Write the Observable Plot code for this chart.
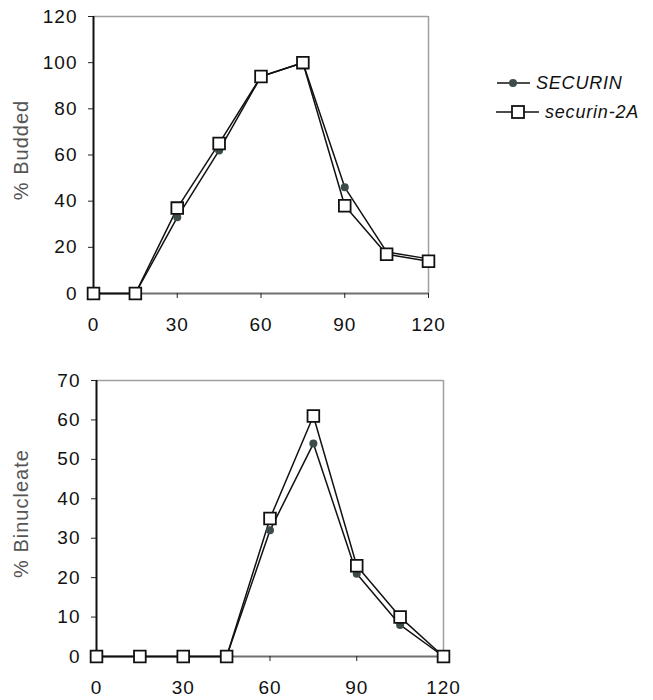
<!DOCTYPE html>
<html>
<head>
<meta charset="utf-8">
<script src="https://cdn.jsdelivr.net/npm/d3@7"></script>
<script src="https://cdn.jsdelivr.net/npm/@observablehq/plot@0.6"></script>
<style>
  html, body { margin: 0; padding: 0; background: #fff; }
  #wrap { position: relative; width: 653px; height: 700px; font-family: "Liberation Sans", Arial, sans-serif; }
  #top, #bottom { position: absolute; left: 0; }
  #top { top: 0; }
  #bottom { top: 360px; }
  .leg { position: absolute; font-style: italic; font-size: 18px; letter-spacing: 0.8px; color: #111; display: flex; align-items: center; line-height: 20px; }
  .leg svg { margin-right: 5px; }
</style>
</head>
<body>
<div id="wrap">
  <div id="top"></div>
  <div id="bottom"></div>
  <div class="leg" style="left:497px; top:73px;">
    <svg width="34" height="20"><line x1="0" y1="10" x2="33" y2="10" stroke="#111" stroke-width="1.5"/><circle cx="16" cy="10" r="4" fill="#3d4b4b"/></svg>SECURIN
  </div>
  <div class="leg" style="left:496px; top:102px;">
    <svg width="44" height="20"><line x1="0" y1="10" x2="43" y2="10" stroke="#111" stroke-width="1.5"/><rect x="16" y="4" width="12" height="12" fill="#fff" stroke="#111" stroke-width="1.8"/></svg>securin-2A
  </div>
</div>
<script>
const times = [0, 15, 30, 45, 60, 75, 90, 105, 120];
const seriesNames = ["SECURIN", "securin-2A"];
const buddedSECURIN = [0, 0, 33, 62, 94, 100, 46, 18, 15];
const buddedSecurin2A = [0, 0, 37, 65, 94, 100, 38, 17, 14];
const binucSECURIN = [0, 0, 0, 0, 32, 54, 21, 8, 0];
const binucSecurin2A = [0, 0, 0, 0, 35, 61, 23, 10, 0];
const xTicks = [0, 30, 60, 90, 120];
const yTicksTop = [0, 20, 40, 60, 80, 100, 120];
const yTicksBottom = [0, 10, 20, 30, 40, 50, 60, 70];

function rows(a, b) {
  return times.flatMap((t, i) => [
    {t, v: a[i], s: seriesNames[0]},
    {t, v: b[i], s: seriesNames[1]}
  ]);
}

function chart({data, yMax, yTicks, label, width, height, mL, mR, mT, mB, labelDy}) {
  const dA = data.filter(d => d.s === seriesNames[0]);
  const dB = data.filter(d => d.s === seriesNames[1]);
  return Plot.plot({
    width, height,
    marginLeft: mL, marginRight: mR, marginTop: mT, marginBottom: mB,
    style: {fontFamily: "Liberation Sans, Arial, sans-serif", fontSize: "19px", color: "#111", background: "#fff", letterSpacing: "1px", overflow: "visible"},
    x: {domain: [0, 120]},
    y: {domain: [0, yMax]},
    marks: [
      Plot.ruleY([yMax], {stroke: "#a0a0a0", strokeWidth: 1.5}),
      Plot.ruleX([120], {stroke: "#a0a0a0", strokeWidth: 1.5}),
      Plot.ruleY([0], {stroke: "#707070", strokeWidth: 2}),
      Plot.ruleX([0], {stroke: "#111", strokeWidth: 2}),
      Plot.axisX({ticks: xTicks, tickSize: 5, tickPadding: 19, tickFormat: d => d, label: null, fontSize: 19, stroke: "#222"}),
      Plot.axisY({ticks: yTicks, tickSize: 5, tickPadding: 11, tickFormat: d => d, label: null, fontSize: 19, stroke: "#222"}),
      Plot.text([label], {frameAnchor: "left", textAnchor: "middle", dx: -(mL - 21), dy: labelDy, rotate: -90, text: d => d, fontSize: 20, fill: "#555"}),
      Plot.line(dA, {x: "t", y: "v", stroke: "#111", strokeWidth: 1.5}),
      Plot.line(dB, {x: "t", y: "v", stroke: "#111", strokeWidth: 1.5}),
      Plot.dot(dA, {x: "t", y: "v", r: 4, fill: "#3d4b4b"}),
      Plot.dot(dB, {x: "t", y: "v", symbol: "square", r: 6.6, fill: "#fff", stroke: "#111", strokeWidth: 1.8})
    ]
  });
}

document.getElementById("top").append(chart({
  data: rows(buddedSECURIN, buddedSecurin2A), yMax: 120, yTicks: yTicksTop, label: "% Budded",
  width: 460, height: 340, mL: 93, mR: 32, mT: 16, mB: 47, labelDy: -5
}));
document.getElementById("bottom").append(chart({
  data: rows(binucSECURIN, binucSecurin2A), yMax: 70, yTicks: yTicksBottom, label: "% Binucleate",
  width: 470, height: 340, mL: 96, mR: 27, mT: 20, mB: 44, labelDy: -5
}));
</script>
</body>
</html>
